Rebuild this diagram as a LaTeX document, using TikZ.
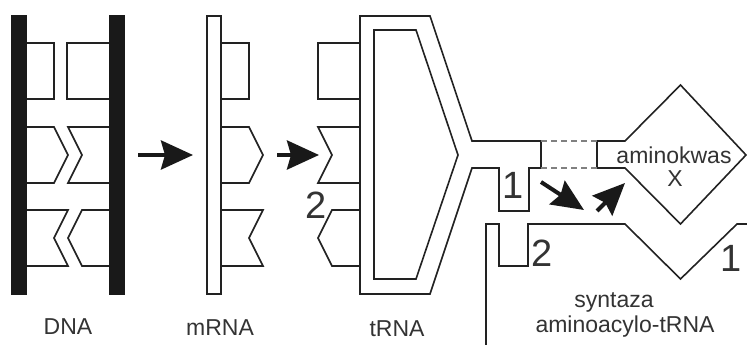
\documentclass[tikz,border=0pt]{standalone}
\usepackage{fontspec}
\setmainfont{Liberation Sans}
\usetikzlibrary{arrows.meta}
\definecolor{labelgray}{HTML}{333333}
\definecolor{linegray}{HTML}{222222}
\begin{document}
\begin{tikzpicture}[
    x=1pt, y=-1pt,
    strand/.style={draw=linegray, line width=1.6pt, line join=miter},
    bond/.style={draw=gray, line width=1.1pt, dash pattern=on 6pt off 4pt},
    bigarrow/.style={line width=4pt, draw=black!90, -{Stealth[length=32pt,width=29pt,inset=4pt]}},
    smallarrow/.style={line width=4pt, draw=black!90, -{Stealth[length=32pt,width=28pt,inset=4pt]}},
    caption/.style={text=labelgray, font=\fontsize{23}{27}\selectfont, inner sep=0pt},
    digit/.style={text=labelgray, font=\fontsize{38}{38}\selectfont, inner sep=0pt}
    ]
    \useasboundingbox (0,0) rectangle (747,345);
    % DNA
    \fill[black!90] (11,15) rectangle (27,295);
    \fill[black!90] (109,15) rectangle (125,295);
    \draw[strand] (27,43) -- (54,43) -- (54,99) -- (27,99);
    \draw[strand] (109,43) -- (67,43) -- (67,99) -- (109,99);
    \draw[strand] (27,127) -- (54,127) -- (68,155) -- (54,183) -- (27,183);
    \draw[strand] (109,127) -- (68,127) -- (82,155) -- (68,183) -- (109,183);
    \draw[strand] (27,210) -- (68,210) -- (54,238) -- (68,266) -- (27,266);
    \draw[strand] (109,210) -- (82,210) -- (68,238) -- (82,266) -- (109,266);
    % mRNA
    \draw[strand] (207,16) rectangle (221,294);
    \draw[strand] (221,43) -- (249,43) -- (249,99) -- (221,99);
    \draw[strand] (221,127) -- (249,127) -- (263,155) -- (249,183) -- (221,183);
    \draw[strand] (221,210) -- (263,210) -- (249,238) -- (263,266) -- (221,266);
    % tRNA
    \draw[strand] (360,16) -- (430,16) -- (472,141) -- (541,141) -- (541,168)
        -- (529,168) -- (529,211) -- (499,211) -- (499,168) -- (472,168)
        -- (430,294) -- (360,294) -- cycle;
    \draw[strand] (374,30) -- (416,30) -- (458,155) -- (416,279) -- (374,279) -- cycle;
    \draw[strand] (360,43) -- (318,43) -- (318,99) -- (360,99);
    \draw[strand] (360,127) -- (318,127) -- (332,155) -- (318,183) -- (360,183);
    \draw[strand] (360,210) -- (332,210) -- (318,238) -- (332,266) -- (360,266);
    % amino acid, with the dashed link
    \draw[strand] (597,168) -- (597,141) -- (625,141) -- (680.5,85) -- (746,155)
        -- (680.5,224) -- (625,168) -- cycle;
    \draw[bond] (541,141) -- (597,141);
    \draw[bond] (541,168) -- (597,168);
    % synthetase
    \draw[strand] (486,345) -- (486,224) -- (499,224) -- (499,266) -- (528,266)
        -- (528,224) -- (625,224) -- (680.5,279) -- (737,224) -- (747,224);
    % arrows
    \coordinate (dnaout) at (138,155);
    \coordinate (mrnain) at (193,155);
    \coordinate (mrnaout) at (277,155);
    \coordinate (trnain) at (319,155);
    \coordinate (leftstart) at (541,182);
    \coordinate (lefttip) at (584,210);
    \coordinate (rightstart) at (597,211);
    \coordinate (righttip) at (625,183);
    \draw[bigarrow] (dnaout) -- (mrnain);
    \draw[bigarrow] (mrnaout) -- (trnain);
    \draw[smallarrow] (leftstart) -- (lefttip);
    \draw[smallarrow] (rightstart) -- (righttip);
    % labels
    \node[caption] (dna) at (68,327) {DNA};
    \node[caption] (mrna) at (220,328) {mRNA};
    \node[caption] (trna) at (397,329) {tRNA};
    \node[caption] (syntaza) at (614,302) {syntaza};
    \node[caption] (aminoacyl) at (625,326.5) {aminoacylo-tRNA};
    \node[caption] (aminokwas) at (674,155.5) {aminokwas};
    \node[caption] (x) at (675,178.5) {X};
    \node[digit] (two) at (316,205.5) {2};
    \node[digit] (oneleft) at (513,185) {1};
    \node[digit] (twolow) at (542,253) {2};
    \node[digit] (oneright) at (731,258) {1};
    \end{tikzpicture}
\end{document}
